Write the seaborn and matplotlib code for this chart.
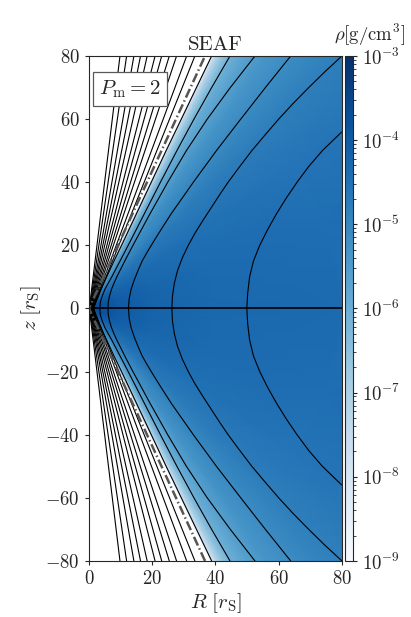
import numpy as np
import pandas as pd
import matplotlib
matplotlib.use('Agg')
import matplotlib.pyplot as plt
import seaborn as sns
from matplotlib.colors import LogNorm

sns.set_style('ticks')
plt.rcParams.update({
    'font.family': 'serif',
    'font.serif': ['cmr10', 'DejaVu Serif'],
    'mathtext.fontset': 'cm',
    'axes.formatter.use_mathtext': True,
    'axes.unicode_minus': False,
})

# density: log10(rho) = angular profile (angle from midplane) + radial offset
phi_deg = [0, 20, 35, 45, 50, 55, 58, 60.5, 62, 63, 63.8, 64.5, 66, 90]
logrho_phi = [-4.3, -4.35, -4.5, -4.72, -4.95, -5.25, -5.55, -5.9, -6.4, -6.9, -7.6, -9.3, -11, -11]
r_nodes = [0, 2, 5, 10, 20, 40, 80, 115]
logrho_r = [0.9, 0.7, 0.5, 0.3, 0.12, 0.0, -0.08, -0.1]

# field lines in the disc, upper half (R read at heights z)
disc_lines = [
    ([0, 1, 2, 3, 5, 7, 10, 15, 20, 30, 40, 50, 60, 70, 80],
     [1.6, 1.75, 2.1, 2.5, 3.3, 4.2, 5.6, 7.9, 10.3, 15.0, 19.7, 24.4, 29.2, 34.0, 38.8]),
    ([0, 2, 4, 6, 8, 10, 15, 20, 30, 40, 50, 60, 70, 80],
     [3.4, 3.6, 4.2, 5.0, 6.1, 7.2, 9.8, 12.4, 17.5, 22.6, 27.8, 33.2, 38.8, 44.6]),
    ([0, 2, 4, 6, 8, 10, 12, 15, 20, 25, 30, 40, 50, 60, 70, 80],
     [6.0, 6.1, 6.5, 7.1, 7.9, 8.8, 9.8, 11.3, 13.9, 16.6, 19.3, 24.9, 30.8, 37.4, 44.7, 52.5]),
    ([0, 3, 6, 9, 12, 15, 18, 21, 25, 30, 35, 40, 50, 60, 70, 80],
     [12.5, 12.7, 13.3, 14.3, 15.5, 16.8, 18.5, 20.3, 22.8, 26.0, 29.5, 33.0, 40.3, 48.0, 55.8, 63.8]),
    ([0, 4, 8, 12, 16, 20, 24, 28, 32, 36, 40, 45, 50, 55, 60, 65, 70, 75, 80],
     [26.2, 26.4, 27.0, 28.0, 29.5, 31.4, 33.6, 36.1, 38.7, 41.3, 44.0, 47.7, 51.5, 55.7,
      60.0, 64.6, 69.5, 74.6, 80.0]),
    ([0, 5, 10, 15, 20, 25, 30, 35, 40, 45, 50, 55.9],
     [49.9, 50.2, 50.8, 52.0, 54.0, 56.5, 59.3, 62.4, 65.8, 69.5, 73.8, 79.9]),
]
# open field lines in the funnel: foot on the midplane and R at |z| = 80
funnel_R0 = [0.1, 0.2, 0.3, 0.4, 0.5, 0.6, 0.75, 0.9, 1.05, 1.2, 1.4]
funnel_Rtop = [9.8, 11.9, 14.2, 16.3, 18.4, 20.9, 23.0, 25.4, 27.7, 30.9, 33.5]
funnel_ztop = 80

# funnel boundary (dash-dot)
sep_R = [36.7, 0, 36.7]
sep_z = [-80, 0, 80]

R_ticks = [0, 20, 40, 60, 80]
z_ticks = [-80, -60, -40, -20, 0, 20, 40, 60, 80]

# build density mesh
phi_full = np.concatenate([-np.array(phi_deg[::-1]), phi_deg[1:]])
prof_full = np.concatenate([logrho_phi[::-1], logrho_phi[1:]])
PHI, RR = np.meshgrid(np.radians(phi_full), r_nodes)
X = RR * np.cos(PHI)
Z = RR * np.sin(PHI)
RHO = 10 ** np.add.outer(logrho_r, prof_full)

# long-form table of field lines (mirror to the lower half)
rows = []
for i, (zz, rr) in enumerate(disc_lines):
    zz = np.array(zz, float)
    rr = np.array(rr, float)
    zf = np.concatenate([-zz[::-1], zz[1:]])
    rf = np.concatenate([rr[::-1], rr[1:]])
    rows.append(pd.DataFrame({'R': rf, 'z': zf, 'line': f'd{i}'}))
for i, (r0, rt) in enumerate(zip(funnel_R0, funnel_Rtop)):
    rows.append(pd.DataFrame({'R': [rt, r0, rt], 'z': [-funnel_ztop, 0, funnel_ztop], 'line': f'f{i}'}))
lines_df = pd.concat(rows, ignore_index=True)

fig = plt.figure(figsize=(4.11, 6.17), dpi=100)
ax = fig.add_axes([0.2165, 0.0908, 0.6155, 0.8185])
cax = fig.add_axes([0.8394, 0.0908, 0.0195, 0.8185])

cmap = plt.get_cmap('Blues').with_extremes(under='white')
mesh = ax.pcolormesh(X, Z, RHO, cmap=cmap, norm=LogNorm(1e-9, 1e-3),
                     shading='gouraud', rasterized=True)

sns.lineplot(data=lines_df, x='R', y='z', units='line', estimator=None, sort=False,
             color='k', lw=0.8, ax=ax, legend=False)
ax.axhline(0, color='k', lw=1.2)
ax.plot(sep_R, sep_z, color='#555555', lw=1.8, linestyle=(0, (3.8, 1.2, 0.6, 1.2)))

ax.text(0.04, 0.955, r'$P_\mathrm{m}=2$', transform=ax.transAxes, fontsize=15,
        ha='left', va='top', zorder=10,
        bbox=dict(boxstyle='square,pad=0.3', fc='white', ec='0.35', lw=0.9))

ax.set_xlim(0, 80)
ax.set_ylim(-80, 80)
ax.set_xticks(R_ticks, labels=[f'${t}$' for t in R_ticks])
ax.set_yticks(z_ticks, labels=[f'${t}$' for t in z_ticks])
ax.tick_params(direction='out', length=3, width=0.8, labelsize=13.5)
ax.set_xlabel(r'$R\ [r_\mathrm{S}]$', fontsize=15, labelpad=2)
ax.set_ylabel(r'$z\ [r_\mathrm{S}]$', fontsize=15, labelpad=2)
ax.set_title('SEAF', fontsize=15, pad=4)

cb = fig.colorbar(mesh, cax=cax, ticks=[1e-9, 1e-8, 1e-7, 1e-6, 1e-5, 1e-4, 1e-3])
cb.ax.tick_params(labelsize=13.5, length=3)
fig.text(0.9, 0.943, r'$\rho[\mathrm{g/cm^3}]$', ha='center', va='center', fontsize=13.5)

fig.savefig('out.png', dpi=100)
